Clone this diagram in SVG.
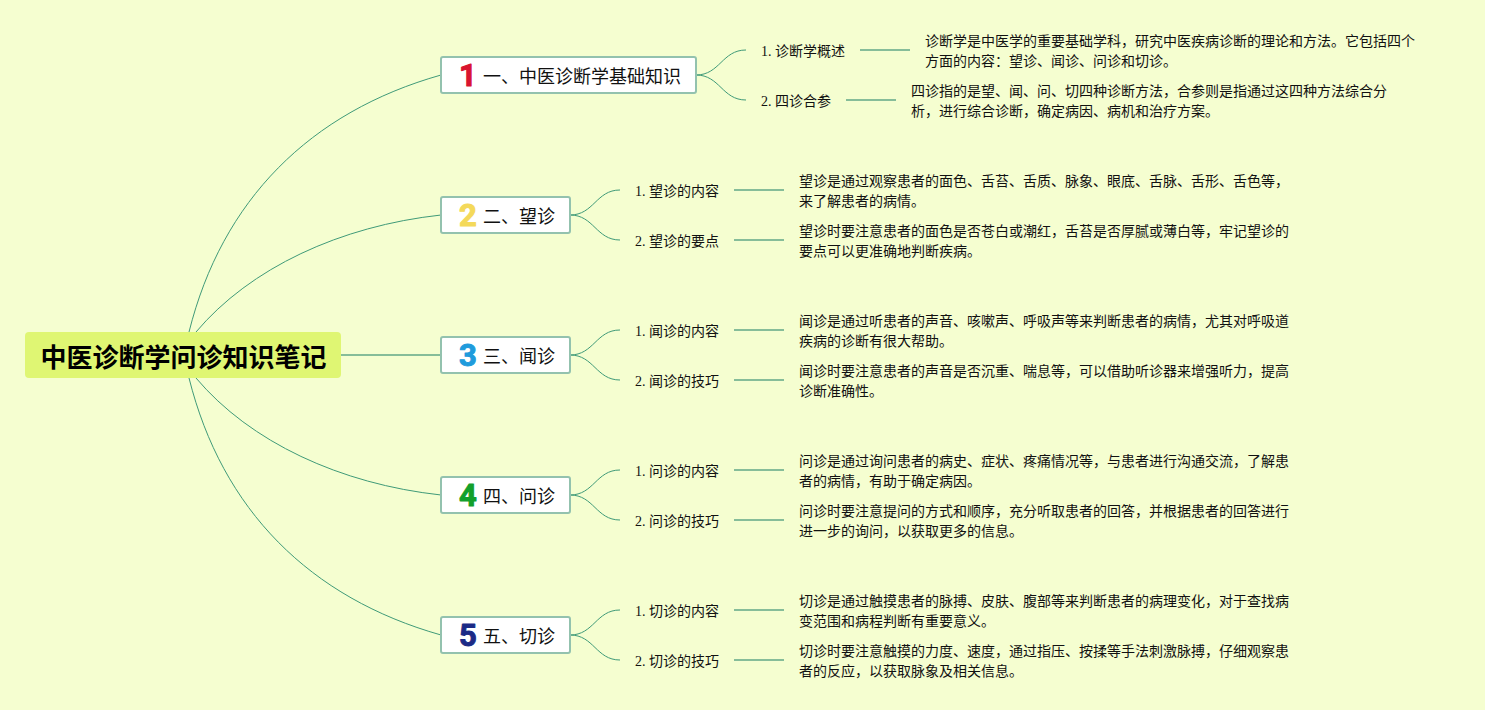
<svg xmlns="http://www.w3.org/2000/svg" width="1485" height="710" viewBox="0 0 1485 710">
<style>
text{font-family:"Liberation Serif","Noto Sans CJK SC",serif;fill:#111}
.main{font-size:18px}
.sub{font-size:14px}
.det{font-size:14px}
.box{fill:#fff;stroke:#93c2ae;stroke-width:2}
.num{font-family:"Roboto","Liberation Sans",sans-serif;font-size:31px;font-weight:700;text-anchor:middle;stroke-width:1;stroke-linejoin:round}
.n1{fill:#d9142e;stroke:#d9142e}.n2{fill:#f4d95a;stroke:#f4d95a}.n3{fill:#1f9bdc;stroke:#1f9bdc}.n4{fill:#12a02c;stroke:#12a02c}.n5{fill:#1c2a86;stroke:#1c2a86}
.c{fill:none;stroke:#3f9a78;stroke-width:1}
.s{fill:none;stroke:#86bd99;stroke-width:2}
</style>
<rect width="1485" height="710" fill="#f5fed0"/>
<g id="connectors">
<path class="c" d="M189,332C222,200 310,112 441,75"/>
<path class="c" d="M196,332C250,268 340,226 441,215"/>
<path class="s" d="M341,355H441"/>
<path class="c" d="M196,378C250,442 340,484 441,495"/>
<path class="c" d="M189,378C222,510 310,598 441,635"/>
<path class="c" d="M696,75C720,75 722,50 746,50"/><path class="c" d="M696,75C720,75 722,100 746,100"/>
<path class="s" d="M860,50H910"/><path class="s" d="M846,100H896"/>
<path class="c" d="M570,215C594,215 596,190 620,190"/><path class="c" d="M570,215C594,215 596,240 620,240"/>
<path class="s" d="M734,190H784"/><path class="s" d="M734,240H784"/>
<path class="c" d="M570,355C594,355 596,330 620,330"/><path class="c" d="M570,355C594,355 596,380 620,380"/>
<path class="s" d="M734,330H784"/><path class="s" d="M734,380H784"/>
<path class="c" d="M570,495C594,495 596,470 620,470"/><path class="c" d="M570,495C594,495 596,520 620,520"/>
<path class="s" d="M734,470H784"/><path class="s" d="M734,520H784"/>
<path class="c" d="M570,635C594,635 596,610 620,610"/><path class="c" d="M570,635C594,635 596,660 620,660"/>
<path class="s" d="M734,610H784"/><path class="s" d="M734,660H784"/>
</g>
<g id="root"><rect x="25" y="332" width="316" height="46" rx="4" fill="#dff673"/><text x="40.5" y="367" font-size="26" font-weight="700" style="fill:#000">中医诊断学问诊知识笔记</text></g>
<g id="n1"><rect class="box" x="441" y="57" width="255" height="36" rx="2"/><text class="num n1" x="468" y="86">1</text><text class="main" x="483" y="83">一、中医诊断学基础知识</text></g>
<g id="n2"><rect class="box" x="441" y="197" width="129" height="36" rx="2"/><text class="num n2" x="468" y="226">2</text><text class="main" x="483" y="223">二、望诊</text></g>
<g id="n3"><rect class="box" x="441" y="337" width="129" height="36" rx="2"/><text class="num n3" x="468" y="366">3</text><text class="main" x="483" y="363">三、闻诊</text></g>
<g id="n4"><rect class="box" x="441" y="477" width="129" height="36" rx="2"/><text class="num n4" x="468" y="506">4</text><text class="main" x="483" y="503">四、问诊</text></g>
<g id="n5"><rect class="box" x="441" y="617" width="129" height="36" rx="2"/><text class="num n5" x="468" y="646">5</text><text class="main" x="483" y="643">五、切诊</text></g>
<g id="n1-1"><text class="sub" x="761" y="56">1. 诊断学概述</text></g>
<g id="n1-1-d"><text class="det" x="925" y="46">诊断学是中医学的重要基础学科，研究中医疾病诊断的理论和方法。它包括四个</text><text class="det" x="925" y="66">方面的内容：望诊、闻诊、问诊和切诊。</text></g>
<g id="n1-2"><text class="sub" x="761" y="106">2. 四诊合参</text></g>
<g id="n1-2-d"><text class="det" x="911" y="96">四诊指的是望、闻、问、切四种诊断方法，合参则是指通过这四种方法综合分</text><text class="det" x="911" y="116">析，进行综合诊断，确定病因、病机和治疗方案。</text></g>
<g id="n2-1"><text class="sub" x="635" y="196">1. 望诊的内容</text></g>
<g id="n2-1-d"><text class="det" x="799" y="186">望诊是通过观察患者的面色、舌苔、舌质、脉象、眼底、舌脉、舌形、舌色等，</text><text class="det" x="799" y="206">来了解患者的病情。</text></g>
<g id="n2-2"><text class="sub" x="635" y="246">2. 望诊的要点</text></g>
<g id="n2-2-d"><text class="det" x="799" y="236">望诊时要注意患者的面色是否苍白或潮红，舌苔是否厚腻或薄白等，牢记望诊的</text><text class="det" x="799" y="256">要点可以更准确地判断疾病。</text></g>
<g id="n3-1"><text class="sub" x="635" y="336">1. 闻诊的内容</text></g>
<g id="n3-1-d"><text class="det" x="799" y="326">闻诊是通过听患者的声音、咳嗽声、呼吸声等来判断患者的病情，尤其对呼吸道</text><text class="det" x="799" y="346">疾病的诊断有很大帮助。</text></g>
<g id="n3-2"><text class="sub" x="635" y="386">2. 闻诊的技巧</text></g>
<g id="n3-2-d"><text class="det" x="799" y="376">闻诊时要注意患者的声音是否沉重、喘息等，可以借助听诊器来增强听力，提高</text><text class="det" x="799" y="396">诊断准确性。</text></g>
<g id="n4-1"><text class="sub" x="635" y="476">1. 问诊的内容</text></g>
<g id="n4-1-d"><text class="det" x="799" y="466">问诊是通过询问患者的病史、症状、疼痛情况等，与患者进行沟通交流，了解患</text><text class="det" x="799" y="486">者的病情，有助于确定病因。</text></g>
<g id="n4-2"><text class="sub" x="635" y="526">2. 问诊的技巧</text></g>
<g id="n4-2-d"><text class="det" x="799" y="516">问诊时要注意提问的方式和顺序，充分听取患者的回答，并根据患者的回答进行</text><text class="det" x="799" y="536">进一步的询问，以获取更多的信息。</text></g>
<g id="n5-1"><text class="sub" x="635" y="616">1. 切诊的内容</text></g>
<g id="n5-1-d"><text class="det" x="799" y="606">切诊是通过触摸患者的脉搏、皮肤、腹部等来判断患者的病理变化，对于查找病</text><text class="det" x="799" y="626">变范围和病程判断有重要意义。</text></g>
<g id="n5-2"><text class="sub" x="635" y="666">2. 切诊的技巧</text></g>
<g id="n5-2-d"><text class="det" x="799" y="656">切诊时要注意触摸的力度、速度，通过指压、按揉等手法刺激脉搏，仔细观察患</text><text class="det" x="799" y="676">者的反应，以获取脉象及相关信息。</text></g>
</svg>
